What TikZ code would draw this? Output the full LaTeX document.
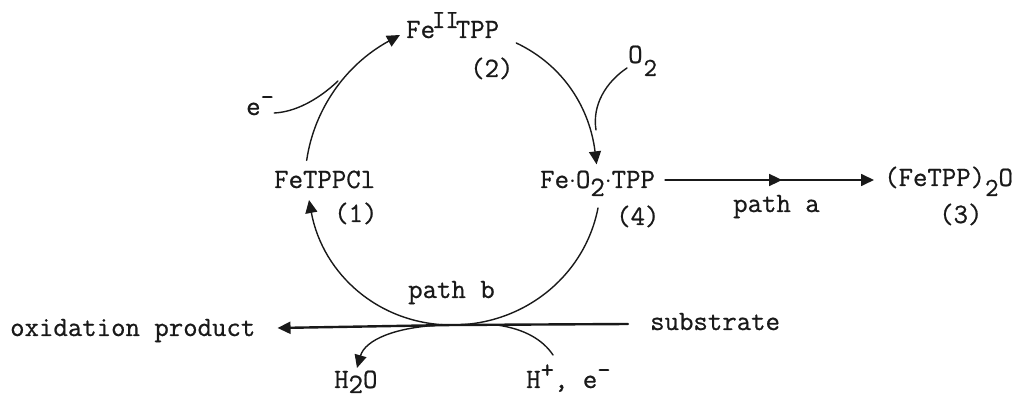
\documentclass[tikz,border=0pt]{standalone}
\usepackage{fontspec}
\newfontfamily\tw[RawFeature={embolden=0.7}]{Latin Modern Mono}
\usetikzlibrary{arrows.meta,decorations.markings}
\newcommand{\supr}[1]{\raisebox{10pt}{\fontsize{26}{26}\selectfont #1}}
\newcommand{\subr}[1]{\raisebox{-13pt}{\fontsize{26}{26}\selectfont #1}}
\tikzset{
 x=1pt,y=-1pt,
 txt/.style={anchor=base west,inner sep=0pt,font=\fontsize{28}{28}\tw,text=black!90},
 arc/.style={draw=black!90,line width=1.4pt,line cap=round},
 hd/.style={-{Triangle[length=13pt,width=12pt]}},
 heavy/.style={arc,line width=2.4pt},
 midhead/.style={postaction={decorate},decoration={markings,mark=at position 0.56 with {\arrow{Triangle[length=13pt,width=12pt]}}}}
}
\begin{document}
\begin{tikzpicture}
\useasboundingbox (0,0) rectangle (1013,398);
\node[txt] (fe2) at (406,38) {Fe\kern-3pt\supr{II}\kern-3ptTPP};
\node[txt] (n2) at (470,77) {(2)};
\node[txt] (em) at (246,115) {e\supr{-}};
\node[txt] (o2) at (628,63) {O\kern1pt\subr{2}};
\node[txt] (fecl) at (274,188) {FeTPPCl};
\node[txt] (n1) at (334,222) {(1)};
\node[txt] (feo) at (540,188) {Fe$\cdot$O\raisebox{-8pt}{2}$\cdot$TPP};
\node[txt] (n4) at (616,225) {(4)};
\node[txt] (patha) at (733,212) {path a};
\node[txt] (dimer) at (884,186) {(FeTPP)\raisebox{-10pt}{\fontsize{26}{26}\selectfont 2}O};
\node[txt] (n3) at (939,223) {(3)};
\node[txt] (pathb) at (408,298) {path b};
\node[txt] (oxi) at (10,336) {oxidation product};
\node[txt] (sub) at (650,330) {substrate};
\node[txt] (h2o) at (334,388) {H\raisebox{-5pt}{2}O};
\node[txt] (hp) at (526,388) {H\supr{+}, e\supr{-}};
\coordinate (tan) at (452,325);
% cycle
\draw[arc,hd] ([xshift=-18pt,yshift=10pt]fecl.north) .. controls (314,110) and (345,65) .. ([xshift=-6pt,yshift=3pt]fe2.base west);
\draw[arc,hd] ([xshift=17pt,yshift=-5pt]fe2.base east) .. controls (565,66) and (590,110) .. ([xshift=-1pt,yshift=6pt]feo.north);
\draw[arc,hd] (598,208) .. controls (585,275) and (525,325) .. (tan) .. controls (380,325) and (323,275) .. (309,200);
% side arrows
\draw[arc] ([xshift=0pt,yshift=2pt]em.base east) .. controls (295,112) and (318,100) .. (338,81);
\draw[arc] ([xshift=-1pt,yshift=-5pt]o2.base west) .. controls (606,82) and (592,105) .. (596,130);
\draw[arc,line width=1.7pt,hd,midhead] ([xshift=10pt,yshift=8pt]feo.base east) -- ([xshift=-10pt,yshift=6pt]dimer.base west);
\draw[heavy,hd] ([xshift=-22pt,yshift=6pt]sub.base west) -- (tan) -- ([xshift=22pt,yshift=8pt]oxi.base east);
\draw[arc,hd] (tan) ++(-10,0) .. controls (395,327) and (365,340) .. (357,368);
\draw[arc] (tan) ++(45,0) .. controls (525,329) and (543,340) .. (553,355);
\end{tikzpicture}
\end{document}
